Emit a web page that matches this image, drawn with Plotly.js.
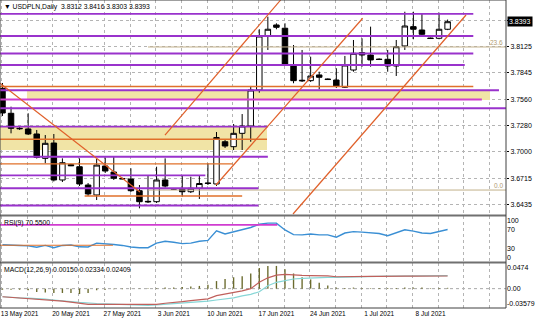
<!DOCTYPE html>
<html><head><meta charset="utf-8">
<script src="https://cdn.plot.ly/plotly-3.0.1.min.js"></script>
<style>html,body{margin:0;padding:0;background:#fff}#chart{width:536px;height:321px}</style>
</head><body><div id="chart"></div>
<script>
// ---------- data ----------
const symbol = 'USDPLN,Daily';
const openP  = [3.7679,3.7411,3.7250,3.7243,3.7189,3.6928,3.7092,3.6696,3.6860,3.6838,3.6642,3.6535,3.6846,3.6781,3.6712,3.6706,3.6581,3.6460,3.6463,3.6696,3.6602,3.6596,3.6570,3.6607,3.6658,3.6653,3.7106,3.7053,3.7196,3.7275,3.7661,3.8240,3.8358,3.8323,3.7926,3.7758,3.7761,3.7822,3.7779,3.7768,3.7690,3.7875,3.8061,3.8036,3.7992,3.7990,3.7918,3.8133,3.8340,3.8304,3.8218,3.8215,3.8312];
const highP  = [3.7736,3.7482,3.7264,3.7411,3.7232,3.7178,3.7189,3.6928,3.6870,3.6928,3.6663,3.6921,3.6937,3.6942,3.6720,3.6821,3.6642,3.6749,3.6838,3.6928,3.6610,3.6749,3.6731,3.6749,3.6875,3.7210,3.7124,3.7296,3.7403,3.7704,3.8312,3.8447,3.8376,3.8376,3.8143,3.8090,3.8018,3.7857,3.7785,3.7894,3.8026,3.8197,3.8215,3.8340,3.8000,3.8090,3.8197,3.8500,3.8500,3.8476,3.8222,3.8490,3.8416];
const lowP   = [3.7382,3.7196,3.7232,3.7178,3.6926,3.6875,3.6680,3.6674,3.6845,3.6631,3.6524,3.6481,3.6771,3.6696,3.6703,3.6567,3.6392,3.6449,3.6449,3.6615,3.6590,3.6517,3.6556,3.6492,3.6642,3.6631,3.7039,3.7017,3.7017,3.7106,3.7632,3.8090,3.8312,3.7929,3.7733,3.7747,3.7747,3.7668,3.7770,3.7682,3.7682,3.7857,3.7911,3.7911,3.7982,3.7857,3.7811,3.8090,3.8205,3.8240,3.8208,3.8205,3.8303];
const closeP = [3.7414,3.7250,3.7246,3.7189,3.6937,3.7089,3.6696,3.6881,3.6849,3.6653,3.6546,3.6856,3.6792,3.6714,3.6708,3.6581,3.6463,3.6466,3.6696,3.6631,3.6598,3.6570,3.6607,3.6658,3.6662,3.7151,3.7060,3.7196,3.7275,3.7661,3.8240,3.8312,3.8333,3.7940,3.7761,3.7764,3.7811,3.7797,3.7773,3.7704,3.7929,3.8054,3.8036,3.7983,3.7988,3.7918,3.8125,3.8347,3.8312,3.8258,3.8213,3.8312,3.8393];
const rsi9   = [37.6,37.6,36,35,32,36,31,36,37,33,32.6,41,40,38,36,32.6,31,31,41,45,43,40,41,45,47,68,61,66,69.6,75,82,84.5,84.5,69.6,59.6,59,61,59,59,54,63,66,65,63,62,57,64,70,67,63,62,66,70.55];
const macdHist = [-0.002,-0.002,-0.002,-0.003,-0.006,-0.007,-0.008,-0.008,-0.008,-0.010,-0.008,-0.003,-0.002,-0.001,-0.001,-0.0005,-0.0005,0.0005,0.001,0.002,0.002,0.003,0.004,0.005,0.007,0.014,0.018,0.021,0.023,0.028,0.038,0.042,0.042,0.036,0.028,0.021,0.017,0.011,0.006,0.002,0.001,0.002,0.001,0.001,0.001,0.001,0.001,0.002,0.002,0.002,0.001,0.001,0.0015];
const macdMain = [-0.015,-0.016,-0.017,-0.018,-0.019,-0.020,-0.021,-0.023,-0.025,-0.027,-0.029,-0.029,-0.029,-0.029,-0.029,-0.029,-0.030,-0.030,-0.029,-0.027,-0.026,-0.024,-0.022,-0.021,-0.019,-0.013,-0.010,-0.0075,-0.004,0.000,0.0117,0.020,0.025,0.0265,0.025,0.0245,0.024,0.024,0.0235,0.022,0.0225,0.0225,0.0228,0.0228,0.0228,0.0225,0.0225,0.023,0.0232,0.0232,0.0232,0.0233,0.02334];
const macdSignal = [-0.015,-0.0165,-0.017,-0.0175,-0.018,-0.0195,-0.021,-0.022,-0.024,-0.0255,-0.027,-0.0275,-0.028,-0.0285,-0.029,-0.0295,-0.030,-0.031,-0.030,-0.029,-0.0275,-0.026,-0.025,-0.024,-0.023,-0.021,-0.019,-0.017,-0.0135,-0.0105,-0.0057,0.0054,0.0117,0.0146,0.0178,0.019,0.020,0.0205,0.021,0.021,0.0215,0.022,0.0228,0.0228,0.023,0.023,0.023,0.0232,0.0234,0.0234,0.0234,0.0234,0.02409];
const dateLabels = ['13 May 2021','20 May 2021','27 May 2021','3 Jun 2021','10 Jun 2021','17 Jun 2021','24 Jun 2021','1 Jul 2021','8 Jul 2021'];
const priceTicks = [3.6435,3.6715,3.7000,3.7280,3.7560,3.7845,3.8125,3.8405];
const priceTickText = ['3.6435','3.6715','3.7000','3.7280','3.7560','3.7845','3.8125',''];
const rsiTickText = ['100','70','30','0'];
const macdTickText = ['0.0474','0.00','-0.03579'];
// drawn objects (price levels and bar-index extents)
const hLevels = [3.8476,3.8240,3.8052,3.7929,3.7698,3.7658,3.7559,3.7465,3.7269,3.7132,3.6945,3.6869,3.6746,3.6607,3.6524,3.6422];
const hFrom   = [-0.3,-0.3,-0.3,-0.3,-0.3,-0.3,-0.3,-0.3,-0.3,-0.3,-0.3,-0.3,-0.3,-0.3,9.6,-0.3];
const hTo     = [55.0,55.0,55.0,54.0,55.0,58.0,56.0,60.0,31.0,30.9,31.0,26.9,23.7,29.9,28.0,29.9];
const hKind   = ['p','p','p','p','o','p','m','p','p','o','p','o','p','p','o','p'];
const zoneTop = [3.7650,3.7264];
const zoneBot = [3.7554,3.7017];
const zoneFrom = [2.86,-0.3];
const zoneTo   = [56.95,30.9];
const trendX0 = [-0.29,18.98,24.94,33.94];
const trendY0 = [3.7733,3.7178,3.6642,3.6331];
const trendX1 = [16.06,32.5,42.08,54.15];
const trendY1 = [3.6567,3.8626,3.8430,3.8465];
const fibLevels = [3.8122,3.6588];
const fibNames = ['23.6','0.0'];
const fibFrom = 17;
const rsiLines = [80.5,36.4];
const rsiLineTo = [32.1,12.9];

// ---------- styles ----------
const FONT = 'Liberation Sans, Arial, sans-serif';
const kindColor = {p:'#9932cc', o:'#e0702a', m:'#d03cd0'};
const bars = openP.map((_, i) => i);
const XMIN = -0.29, XMAX = 58.82;
const gridPos = []; const gridText = [];
for (let k = 0; k * 3 - 0.1 < XMAX; k++) {
  gridPos.push(k * 3 - 0.1);
  gridText.push(k % 2 === 0 && dateLabels[k / 2] ? dateLabels[k / 2] : '');
}

const traces = [
  {type:'candlestick', x:bars, open:openP, high:highP, low:lowP, close:closeP,
   xaxis:'x', yaxis:'y', whiskerwidth:0, hoverinfo:'skip', showlegend:false,
   increasing:{line:{color:'#000', width:1}, fillcolor:'#ffffff'},
   decreasing:{line:{color:'#000', width:1}, fillcolor:'#000000'}},
  {type:'scatter', mode:'lines', x:bars, y:rsi9, xaxis:'x', yaxis:'y2',
   line:{color:'#3a8fd4', width:1.4}, hoverinfo:'skip', showlegend:false},
  {type:'bar', x:bars, y:macdHist, xaxis:'x', yaxis:'y3', width:0.16,
   marker:{color:'#6b6b2e', line:{width:0}}, hoverinfo:'skip', showlegend:false},
  {type:'scatter', mode:'lines', x:bars, y:macdSignal, xaxis:'x', yaxis:'y3',
   line:{color:'#86d6d6', width:1.2}, hoverinfo:'skip', showlegend:false},
  {type:'scatter', mode:'lines', x:bars, y:macdMain, xaxis:'x', yaxis:'y3',
   line:{color:'#c0605c', width:1.2}, hoverinfo:'skip', showlegend:false}
];

const shapes = [];
zoneTop.forEach((t, k) => shapes.push({type:'rect', xref:'x', yref:'y', x0:zoneFrom[k], x1:zoneTo[k], y0:zoneBot[k], y1:t,
  fillcolor:'#f1e4a6', line:{width:0}, layer:'between'}));
fibLevels.forEach(v => shapes.push({type:'line', xref:'x', yref:'y', x0:fibFrom, x1:XMAX, y0:v, y1:v,
  line:{color:'#c2b08a', width:1}}));
hLevels.forEach((v, k) => shapes.push({type:'line', xref:'x', yref:'y', x0:hFrom[k], x1:hTo[k], y0:v, y1:v,
  line:{color:kindColor[hKind[k]], width: hKind[k]==='o' ? 1.4 : 1.8}}));
trendX0.forEach((x0, k) => shapes.push({type:'line', xref:'x', yref:'y', x0:x0, y0:trendY0[k], x1:trendX1[k], y1:trendY1[k],
  line:{color:'#e0602a', width:1.2}}));
shapes.push({type:'line', xref:'x', yref:'y2', x0:XMIN, x1:rsiLineTo[0], y0:rsiLines[0], y1:rsiLines[0], line:{color:'#d03cd0', width:1.8}});
shapes.push({type:'line', xref:'x', yref:'y2', x0:XMIN, x1:rsiLineTo[1], y0:rsiLines[1], y1:rsiLines[1], line:{color:'#e0702a', width:1.2}});
shapes.push({type:'line', xref:'paper', yref:'y3', x0:0, x1:1, y0:0, y1:0, line:{color:'#a8a8a8', width:1, dash:'dot'}, layer:'below'});
// panel separators and frame
shapes.push({type:'line', xref:'paper', yref:'paper', x0:0, x1:1, y0:0.3003, y1:0.3003, line:{color:'#707070', width:2}});
shapes.push({type:'line', xref:'paper', yref:'paper', x0:0, x1:1, y0:0.1477, y1:0.1477, line:{color:'#707070', width:2}});
shapes.push({type:'rect', xref:'paper', yref:'paper', x0:0, x1:1, y0:0, y1:1, line:{color:'#404040', width:1}});

const n = closeP.length - 1;
const annotations = [
  {xref:'paper', yref:'paper', x:0, y:1, xanchor:'left', yanchor:'top', xshift:2, yshift:-1, showarrow:false, align:'left',
   text:'\u25BC ' + symbol + '  ' + [openP[n], highP[n], lowP[n], closeP[n]].map(v => v.toFixed(4)).join(' '),
   font:{family:FONT, size:6.8, color:'#000'}},
  {xref:'paper', yref:'paper', x:0, y:0.2987, xanchor:'left', yanchor:'top', xshift:2, yshift:-1, showarrow:false,
   text:'RSI(9) ' + rsi9[n].toFixed(4), font:{family:FONT, size:6.8, color:'#000'}},
  {xref:'paper', yref:'paper', x:0, y:0.1461, xanchor:'left', yanchor:'top', xshift:2, yshift:-1, showarrow:false,
   text:'MACD(12,26,9) ' + [macdHist[n], macdMain[n], macdSignal[n]].map(v => v.toFixed(5)).join(' '),
   font:{family:FONT, size:6.8, color:'#000'}},
  {xref:'paper', yref:'y', x:1, y:closeP[n], xanchor:'left', yanchor:'middle', xshift:1, showarrow:false,
   text:closeP[n].toFixed(4), bgcolor:'#000', borderpad:1, font:{family:FONT, size:7, color:'#fff'}}
];
fibLevels.forEach((v, k) => annotations.push({xref:'paper', yref:'y', x:1, y:v, xanchor:'right', yanchor:'bottom',
  xshift:-1, yshift:-1, showarrow:false, text:fibNames[k], font:{family:FONT, size:6.5, color:'#b09a70'}}));

const layout = {
  width:536, height:321, margin:{l:0, r:30, t:0, b:13}, paper_bgcolor:'#fff', plot_bgcolor:'#fff',
  showlegend:false, dragmode:false, boxgap:0.2, boxgroupgap:0.2,
  xaxis:{domain:[0,1], range:[XMIN, XMAX], anchor:'y3', tickvals:gridPos, ticktext:gridText,
    showgrid:true, gridcolor:'#b4b4b4', griddash:'dot', gridwidth:1, zeroline:false, showline:false,
    ticks:'', ticklabelshift:18, tickfont:{family:FONT, size:6.5, color:'#000'},
    rangeslider:{visible:false}, fixedrange:true},
  yaxis:{domain:[0.3019, 1], range:[3.63202, 3.86258], side:'right', anchor:'x', tickvals:priceTicks, ticktext:priceTickText,
    showgrid:true, gridcolor:'#b4b4b4', griddash:'dot', zeroline:false, ticks:'outside', ticklen:2, tickcolor:'#000',
    tickfont:{family:FONT, size:7, color:'#000'}, fixedrange:true},
  yaxis2:{domain:[0.1494, 0.2987], range:[0, 100], side:'right', anchor:'x', tickvals:[90,70,30,10], ticktext:rsiTickText,
    showgrid:false, zeroline:false, ticks:'', tickfont:{family:FONT, size:7, color:'#000'}, fixedrange:true},
  yaxis3:{domain:[0, 0.1461], range:[-0.03579, 0.0474], side:'right', anchor:'x', tickvals:[0.0394, 0, -0.0278], ticktext:macdTickText,
    showgrid:false, zeroline:false, ticks:'', tickfont:{family:FONT, size:7, color:'#000'}, fixedrange:true},
  shapes:shapes, annotations:annotations
};
Plotly.newPlot('chart', traces, layout, {staticPlot:true, displayModeBar:false});
</script></body></html>
